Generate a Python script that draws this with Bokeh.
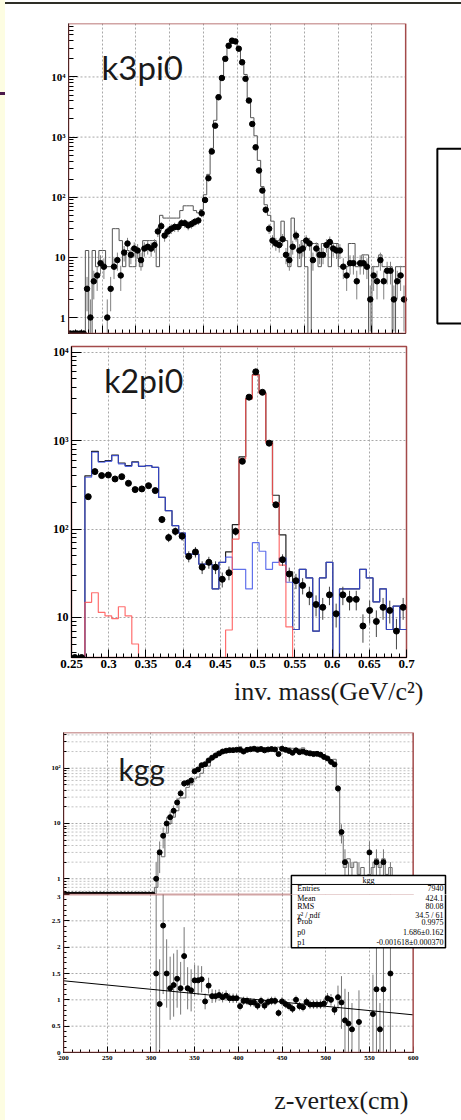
import numpy as np
from bokeh.plotting import figure
from bokeh.models import Range1d, FixedTicker, Label, BoxAnnotation, Title
from bokeh.layouts import column
from bokeh.embed import file_html
from bokeh.resources import INLINE

# ---------------- data ----------------
# k3pi0 invariant mass: 100 bins, 0.25 - 0.75
K3_LO, K3_HI = 0.25, 0.75
k3pi0_data = [0, 0, 0, 0, 0, 3, 1, 4, 5, 8, 7, 1, 3, 7, 9, 5, 12, 17, 11, 14,
              13, 9, 14, 15, 14, 16, 27, 33, 23, 27, 30, 32, 32, 37, 37, 34, 36, 39, 41, 54,
              90, 207, 575, 1550, 4600, 9600, 20000, 33000, 40000, 39000,
              29500, 17500, 9300, 4050, 1650, 676, 278, 129, 62, 30,
              19, 17, 16, 20, 11, 9, 15, 23, 13, 14, 19, 17, 9, 14, 11, 11, 16, 18, 14, 13,
              13, 7, 5, 8, 8, 4, 8, 8, 7, 2, 5, 4, 9, 4, 6, 6, 2, 4, 5, 2]
k3pi0_mc = [0, 0, 0, 0, 0, 13, 0, 13, 7, 13, 13, 7, 7, 30, 30, 19, 7, 13, 7, 7,
            13, 7, 19, 19, 19, 19, 7, 50, 45, 45, 45, 45, 45, 60, 72, 72, 72, 60, 55, 62,
            110, 240, 650, 1900, 5000, 10500, 21000, 36000, 44000, 41000,
            31000, 19000, 11000, 4300, 2100, 1050, 410, 150, 75, 50,
            40, 19, 19, 40, 19, 7, 45, 20, 7, 19, 7, 0, 17, 17, 7, 17, 17, 7, 17, 17,
            7, 7, 7, 17, 17, 7, 7, 11, 11, 0, 7, 7, 11, 7, 7, 7, 0, 7, 7, 7]

# k2pi0 invariant mass: 50 bins, 0.25 - 0.70
K2_LO, K2_HI = 0.25, 0.70
k2pi0_data = [0, 0, 232, 446, 402, 408, 368, 391, 329, 279, 284, 309, 272, 128, 80,
              94, 83, 49, 55, 37, 42, 37, 27, 32, 94, 583, 3100, 6000, 3520, 935,
              188, 45, 31, 26, 23, 18, 14, 13, 18, 11, 18, 16, 16, 8, 12, 9, 13, 12, 7, 13]
k2pi0_bkg = [0, 0, 385, 738, 569, 583, 676, 545, 512, 569, 512, 520, 499, 228, 161,
             109, 90, 52, 52, 40, 40, 21, 42, 48, 35, 35, 21, 70, 56, 35,
             42, 47, 25, 7.3, 35, 28, 7, 28, 42, 0, 21, 21, 21, 35, 28, 15, 21, 7.3, 13.4, 7.3]
k2pi0_sig = [0, 0, 14.8, 19, 11.4, 10.4, 9.7, 13.2, 10.4, 5.0, 0, 0, 0, 0, 0,
             0, 0, 0, 0, 0, 0, 0, 0, 7.2, 77, 620, 2970, 5500, 3430, 948,
             199, 39, 7.8, 0, 0, 0, 0, 0, 0, 0, 0, 0, 0, 0, 0, 0, 0, 0, 0, 0]

# kgg z-vertex: 100 bins, 200 - 600 cm
KG_LO, KG_HI = 200, 600
kgg_data = [0] * 26 + [1, 3, 6, 10, 13, 17, 24, 35, 53, 55, 60, 88, 95, 113, 118,
                       138, 155, 170, 185, 200, 207, 212, 212, 215, 215, 200, 215, 220, 225, 215,
                       222, 210, 218, 222, 218, 180, 225, 215, 205, 190, 210, 195, 200, 190, 185,
                       180, 182, 175, 160, 150, 130, 117, 43, 7, 2, 1, 1, 0, 1, 0,
                       0, 3, 1, 2, 1, 2, 0, 1, 0, 0, 0, 0, 0, 0]
kgg_mc = [0] * 26 + [0.7, 3.3, 2.5, 6.7, 10, 13, 17, 29, 29, 45, 50, 64, 69, 81, 122,
                     109, 145, 159, 170, 190, 192, 206, 206, 209, 244, 204, 219, 237, 237, 242,
                     214, 236, 231, 222, 222, 240, 232, 234, 233, 229, 210, 222, 233, 198, 203,
                     198, 200, 192, 172, 146, 130, 145, 41, 6, 1.6, 2.3, 1.6, 2, 1.2, 1.6,
                     1, 1.2, 1.6, 2.3, 1.6, 2.3, 1.2, 1.6, 1.0, 0, 0, 0, 0, 0]
ratio_bin = list(range(26, 83)) + [84, 88, 89, 90, 91, 93]
ratio_val = [1.50, 0.92, 2.41, 1.50, 1.22, 1.28, 1.40, 1.22, 1.83, 1.22,
             1.18, 1.37, 1.37, 1.39, 0.97, 1.27, 1.07, 1.07, 1.09, 1.05,
             1.08, 1.03, 1.03, 1.03, 0.88, 0.98, 0.98, 0.95, 0.95, 0.89,
             0.98, 0.89, 0.96, 0.98, 0.98, 0.75, 0.97, 0.92, 0.88, 0.83,
             1.00, 0.88, 0.86, 0.96, 0.91, 0.91, 0.91, 0.91, 0.93, 1.03,
             1.00, 0.81, 1.05, 0.95, 0.61, 0.55, 0.44,
             0.58, 0.73, 1.20, 0.44, 1.20, 1.50]
ratio_err = [1.5, 0.85, 1.3, 0.65, 0.6, 0.6, 0.55, 0.5, 0.55, 0.4,
             0.4, 0.3, 0.28, 0.25, 0.15, 0.15, 0.13, 0.12, 0.11, 0.1,
             0.1, 0.09, 0.09, 0.09, 0.08, 0.08, 0.08, 0.08, 0.08, 0.08,
             0.08, 0.08, 0.08, 0.08, 0.08, 0.07, 0.08, 0.08, 0.08, 0.08,
             0.08, 0.08, 0.08, 0.08, 0.08, 0.08, 0.08, 0.08, 0.09, 0.1,
             0.11, 0.1, 0.22, 0.5, 0.6, 0.6, 0.5,
             0.6, 0.75, 1.2, 0.5, 1.2, 1.5]
fit_x = [200, 600]
fit_y = [1.362, 0.715]
stats_title = "kgg"
stats_names = ["Entries", "Mean", "RMS", "χ² / ndf", "Prob", "p0", "p1"]
stats_vals = ["7940", "424.1", "80.08", "34.5 / 61", "0.9975", "1.686±0.162", "-0.001618±0.000370"]

k3_xticks = [0.25, 0.3, 0.35, 0.4, 0.45, 0.5, 0.55, 0.6, 0.65, 0.7, 0.75]
k2_xticks = [0.25, 0.3, 0.35, 0.4, 0.45, 0.5, 0.55, 0.6, 0.65, 0.7]
k2_xlabels = ["0.25", "0.3", "0.35", "0.4", "0.45", "0.5", "0.55", "0.6", "0.65", "0.7"]
log_labels = {1: "1", 10: "10", 100: "10²", 1000: "10³", 10000: "10⁴"}
kg_xticks = [200, 250, 300, 350, 400, 450, 500, 550, 600]
ratio_yticks = [0, 0.5, 1, 1.5, 2, 2.5, 3]

# ---------------- styling helpers ----------------
FRAME = "#a34a4a"
GRID = "#a8a8a8"
TFONT = "Liberation Serif"
SANS = "Lato"


def minor_log(lo_dec, hi_dec):
    return [m * 10 ** d for d in range(lo_dec, hi_dec + 1) for m in range(2, 10)]


def minor_lin(a, b, step):
    n = int(round((b - a) / step))
    return [round(a + i * step, 4) for i in range(n + 1)]


def make_fig(height, xr, yr, ylog, mbl, mbr, mbt, mbb, xaxis=True, outline=True):
    return figure(width=461, height=height, x_range=Range1d(*xr), y_range=Range1d(*yr),
                  y_axis_type="log" if ylog else "linear",
                  x_axis_location="below" if xaxis else None,
                  output_backend="svg", toolbar_location=None,
                  min_border_left=mbl, min_border_right=mbr,
                  min_border_top=mbt, min_border_bottom=mbb,
                  border_fill_color=None, background_fill_color="white",
                  outline_line_color=FRAME if outline else None, outline_line_width=1.5)


def style_axis(ax, size, tin, tmin):
    ax.major_tick_in = tin
    ax.major_tick_out = 0
    ax.minor_tick_in = tmin
    ax.minor_tick_out = 0
    ax.axis_line_color = "black"
    ax.major_tick_line_color = "black"
    ax.minor_tick_line_color = "black"
    ax.major_label_text_font = TFONT
    ax.major_label_text_font_style = "bold"
    ax.major_label_text_font_size = size
    ax.major_label_text_color = "black"
    ax.major_label_standoff = 3


def style_grid(g, ticks):
    g.ticker = FixedTicker(ticks=ticks)
    g.grid_line_color = GRID
    g.grid_line_dash = "2 2"
    g.grid_line_width = 1


def hgrid(p, x0, x1, ticks, alpha=1.0):
    # horizontal grid lines limited to the histogram frame [x0, x1]
    t = np.asarray(ticks, float)
    p.segment(np.full(len(t), x0), t, np.full(len(t), x1), t,
              line_color=GRID, line_dash="2 2", line_width=1, line_alpha=alpha)


def box(p, l, r, b, t, color, width, fill=None):
    p.add_layout(BoxAnnotation(left=l, right=r, bottom=b, top=t,
                               fill_color=fill or "white", fill_alpha=1.0 if fill else 0.0,
                               line_color=color, line_alpha=1.0, line_width=width))


def edges(lo, hi, n):
    return np.linspace(lo, hi, n + 1)


def centers(lo, hi, n):
    e = edges(lo, hi, n)
    return 0.5 * (e[:-1] + e[1:])


def hist_line(p, lo, hi, vals, floor, **kw):
    v = np.asarray(vals, float)
    v = np.where(v > 0, v, floor)
    e = edges(lo, hi, len(v))
    p.step(e, np.append(v, v[-1]), mode="after", **kw)


def data_points(p, lo, hi, vals, ybot, size, ecol):
    d = np.asarray(vals, float)
    c = centers(lo, hi, len(d))
    nz = d > 0
    err = np.sqrt(d)
    low = np.where(d - err > 0, d - err, ybot * 1e-3)
    p.segment(c[nz], low[nz], c[nz], (d + err)[nz], line_color=ecol, line_width=1)
    p.scatter(c, np.where(nz, d, ybot), size=size, color="black")


# ---------------- panel 1 : k3pi0 ----------------
Y1 = (0.542, 77400)
p1 = make_fig(340, (K3_LO, 0.8328), Y1, True, 68, 0, 23, 7, outline=False)
style_grid(p1.xgrid, k3_xticks[1:-1])
p1.ygrid.visible = False
hgrid(p1, K3_LO, K3_HI, [1, 10, 100, 1000, 10000])
hist_line(p1, K3_LO, K3_HI, k3pi0_mc, 1e-3, line_color="#555555", line_width=1)
data_points(p1, K3_LO, K3_HI, k3pi0_data, Y1[0], 5.5, "#808080")
style_axis(p1.yaxis[0], "11px", 9, 5)
p1.yaxis.ticker = FixedTicker(ticks=[1, 10, 100, 1000, 10000], minor_ticks=minor_log(0, 4))
p1.yaxis.major_label_overrides = log_labels
style_axis(p1.xaxis[0], "1px", 8, 4)
p1.xaxis.ticker = FixedTicker(ticks=k3_xticks, minor_ticks=minor_lin(0.25, 0.75, 0.01))
p1.xaxis.major_label_overrides = {t: "" for t in k3_xticks}
p1.xaxis.major_label_standoff = 0
p1.xaxis.bounds = (K3_LO, K3_HI)
box(p1, K3_LO, K3_HI, Y1[0], Y1[1], FRAME, 1.5)
p1.add_layout(Label(x=0.299, y=14500, text="k3pi0", text_font=SANS, text_font_size="33px",
                    text_color="#1a1a1a", text_baseline="alphabetic"))
box(p1, 0.797, 0.95, 0.795, 641, "black", 2)

# ---------------- panel 2 : k2pi0 ----------------
Y2 = (3.52, 11600)
p2 = make_fig(380, (K2_LO, K2_HI), Y2, True, 71, 55, 6, 63)
style_grid(p2.xgrid, k2_xticks)
style_grid(p2.ygrid, [10, 100, 1000, 10000])
k2_total = np.asarray(k2pi0_bkg) + np.asarray(k2pi0_sig)
hist_line(p2, K2_LO, K2_HI, k2_total, 1e-3, line_color="#222222", line_width=1.2)
hist_line(p2, K2_LO, K2_HI, k2pi0_bkg, 1e-3, line_color="#3a4ee6", line_width=1.2, line_alpha=0.8)
hist_line(p2, K2_LO, K2_HI, k2pi0_sig, 1e-3, line_color="#ff5555", line_width=1.2, line_alpha=0.85)
data_points(p2, K2_LO, K2_HI, k2pi0_data, Y2[0], 6, "#444444")
style_axis(p2.yaxis[0], "12px", 10, 5)
p2.yaxis.ticker = FixedTicker(ticks=[10, 100, 1000, 10000], minor_ticks=minor_log(0, 4))
p2.yaxis.major_label_overrides = log_labels
style_axis(p2.xaxis[0], "13px", 8, 4)
p2.xaxis.ticker = FixedTicker(ticks=k2_xticks, minor_ticks=minor_lin(0.25, 0.70, 0.01))
p2.xaxis.major_label_overrides = dict(zip(k2_xticks, k2_xlabels))
p2.xaxis.major_label_standoff = 2
p2.add_layout(Label(x=0.294, y=4800, text="k2pi0", text_font=SANS, text_font_size="32px",
                    text_color="#1a1a1a", text_baseline="alphabetic"))
p2.add_layout(Title(text="inv. mass(GeV/c²)", align="right", offset=-17, vertical_align="middle",
                    text_font=TFONT, text_font_size="26px", text_font_style="normal",
                    text_color="#1a1a1a"), "below")

# ---------------- panel 3 : kgg (top, log) ----------------
Y3 = (0.52, 442)
KG_VIEW = 655.3
p3 = make_fig(174, (KG_LO, KG_VIEW), Y3, True, 63, 0, 12, 0, xaxis=False, outline=False)
style_grid(p3.xgrid, kg_xticks[1:-1])
p3.ygrid.visible = False
hgrid(p3, KG_LO, KG_HI, [1, 10, 100])
hgrid(p3, KG_LO, KG_HI, minor_log(-1, 2), alpha=0.7)
hist_line(p3, KG_LO, KG_HI, kgg_mc, 1e-3, line_color="#6a6a6a", line_width=1)
data_points(p3, KG_LO, KG_HI, kgg_data, Y3[0], 5, "#777777")
style_axis(p3.yaxis[0], "7px", 6, 3)
p3.yaxis.ticker = FixedTicker(ticks=[1, 10, 100], minor_ticks=minor_log(-1, 2))
p3.yaxis.major_label_overrides = log_labels
box(p3, KG_LO, KG_HI, Y3[0], Y3[1], FRAME, 1.5)
p3.add_layout(Label(x=263, y=95, text="kgg", text_font=SANS, text_font_size="30px",
                    text_color="#1a1a1a", text_baseline="alphabetic"))
box(p3, 460.7, 637, 0.05, 1.15, "black", 1.5, fill="white")
box(p3, 460.7, 637, 0.05, 0.79, "black", 1)
p3.add_layout(Label(x=548.8, y=0.93, text=stats_title, text_font=TFONT, text_font_size="8px",
                    text_align="center", text_baseline="middle", text_color="black"))
p3.add_layout(Label(x=467.4, y=0.668, text=stats_names[0], text_font=TFONT, text_font_size="8px",
                    text_align="left", text_baseline="middle", text_color="black"))
p3.add_layout(Label(x=634.7, y=0.668, text=stats_vals[0], text_font=TFONT, text_font_size="8px",
                    text_align="right", text_baseline="middle", text_color="black"))

# ---------------- panel 4 : kgg ratio ----------------
p4 = make_fig(226, (KG_LO, KG_VIEW), (0, 3.0), False, 63, 0, 0, 66, outline=False)
style_grid(p4.xgrid, kg_xticks[1:-1])
p4.ygrid.visible = False
hgrid(p4, KG_LO, KG_HI, ratio_yticks[1:-1])
kc = centers(KG_LO, KG_HI, len(kgg_data))
rx = kc[np.asarray(ratio_bin)]
rv = np.asarray(ratio_val)
re = np.asarray(ratio_err)
p4.segment(rx, np.maximum(rv - re, 0), rx, rv + re, line_color="#777777", line_width=1)
p4.line(fit_x, fit_y, line_color="black", line_width=1)
p4.scatter(rx, rv, size=5, color="black")
style_axis(p4.yaxis[0], "7px", 6, 3)
p4.yaxis.ticker = FixedTicker(ticks=ratio_yticks, minor_ticks=minor_lin(0, 3, 0.1))
style_axis(p4.xaxis[0], "7px", 6, 3)
p4.xaxis.ticker = FixedTicker(ticks=kg_xticks, minor_ticks=minor_lin(200, 600, 10))
p4.xaxis.bounds = (KG_LO, KG_HI)
box(p4, KG_LO, KG_HI, 0, 3.0, FRAME, 1.5)
box(p4, 460.7, 637, 1.99, 4.0, "black", 1.5, fill="white")
row_y = [2.93, 2.78, 2.61, 2.48, 2.27, 2.09]
for yy, nm, vl in zip(row_y, stats_names[1:], stats_vals[1:]):
    p4.add_layout(Label(x=467.4, y=yy, text=nm, text_font=TFONT, text_font_size="8px",
                        text_align="left", text_baseline="middle", text_color="black"))
    p4.add_layout(Label(x=634.7, y=yy, text=vl, text_font=TFONT, text_font_size="8px",
                        text_align="right", text_baseline="middle", text_color="black"))
p4.add_layout(Title(text=" ", text_font_size="4px"), "below")
p4.add_layout(Title(text="z-vertex(cm)", align="right", offset=53, vertical_align="middle",
                    text_font=TFONT, text_font_size="26px", text_font_style="normal",
                    text_color="#1a1a1a"), "below")

BG1 = ("linear-gradient(#4b1a4b,#4b1a4b) 0px 92px / 5px 3px no-repeat, "
       "linear-gradient(#2e2e26,#2e2e26) 5px 2px / 456px 2px no-repeat, "
       "linear-gradient(to right, #fdfde2 5px, #ffffff 5px)")
BGS = "linear-gradient(to right, #fdfde2 5px, #ffffff 5px)"
roots = [column(p1, styles={"background": BG1}),
         column(p2, styles={"background": BGS}),
         column(p3, styles={"background": BGS}),
         column(p4, styles={"background": BGS})]

open("out.html", "w").write(file_html(roots, INLINE))
